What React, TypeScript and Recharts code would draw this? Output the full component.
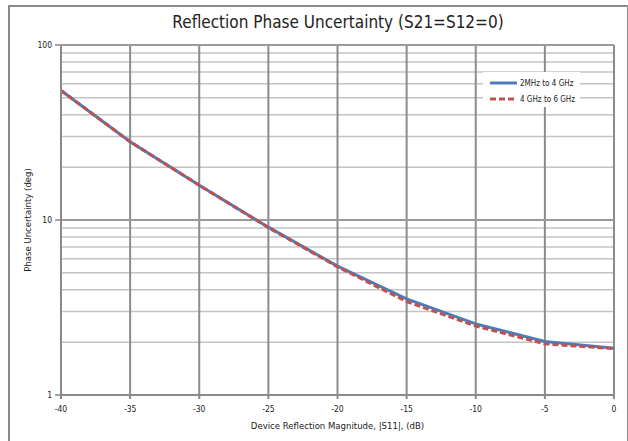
import React from "react";
import { LineChart, Line, XAxis, YAxis, CartesianGrid, ReferenceLine } from "recharts";

const magnitudes = [-40, -35, -30, -25, -20, -15, -10, -5, 0];
const band1 = [55, 28, 15.8, 9.1, 5.45, 3.54, 2.55, 2.02, 1.85];
const band2 = [55, 28, 15.8, 9.05, 5.4, 3.42, 2.48, 1.96, 1.84];
const xTicks = [-40, -35, -30, -25, -20, -15, -10, -5, 0];
const yGrid = [1, 2, 3, 4, 5, 6, 7, 8, 9, 10, 20, 30, 40, 50, 60, 70, 80, 90, 100];
const yMajor = [1, 10, 100];
const seriesNames = ["2MHz to 4 GHz", "4 GHz to 6 GHz"];

const data = magnitudes.map((m, i) => ({ m, a: band1[i], b: band2[i] }));

const FONT = "'Liberation Sans Narrow', 'DejaVu Sans Condensed', 'Arial Narrow', sans-serif";

const YTick = (props: any) => {
  const { x, y, payload } = props;
  if (!yMajor.includes(payload.value)) return null;
  return (
    <g>
      <line x1={x + 2} x2={x + 8} y1={y} y2={y} stroke="#888" strokeWidth={1.5} />
      <text x={x - 1} y={y} dy={3} textAnchor="end" fontSize={8.5} fill="#222" fontFamily={FONT}>
        {payload.value}
      </text>
    </g>
  );
};

const LegendBox = () => (
  <svg width={97} height={35} style={{ position: "absolute", left: 483, top: 72, background: "#fff" }}>
    <line x1={7} x2={34} y1={11} y2={11} stroke="#4A7EBB" strokeWidth={3} />
    <line x1={7} x2={33} y1={27} y2={27} stroke="#C0504D" strokeWidth={3} strokeDasharray="6 3" />
    <text x={37} y={14} fontSize={8} fontFamily={FONT} fill="#222">{seriesNames[0]}</text>
    <text x={37} y={30} fontSize={8} fontFamily={FONT} fill="#222">{seriesNames[1]}</text>
  </svg>
);

export default function App() {
  return (
    <div style={{ position: "absolute", left: 0, top: 0, width: 628, height: 441, background: "#fff", overflow: "hidden" }}>
      <div
        style={{
          position: "absolute",
          left: 8,
          top: 5,
          width: 617,
          height: 440,
          borderLeft: "2px solid #8a8a8a",
          borderTop: "2px solid #8a8a8a",
          borderRight: "2px solid #8a8a8a",
        }}
      />
      <div
        style={{
          position: "absolute",
          left: 0,
          top: 12,
          width: 676,
          textAlign: "center",
          fontFamily: FONT,
          fontSize: 17,
          color: "#222",
        }}
      >
        Reflection Phase Uncertainty (S21=S12=0)
      </div>
      <div style={{ position: "absolute", left: 0, top: 0 }}>
        <LineChart width={628} height={441} data={data} margin={{ top: 45, right: 14, bottom: 8, left: 20 }}>
          <CartesianGrid horizontal={true} vertical={false} stroke="#c4c4c4" strokeWidth={1.5} horizontalValues={yGrid} />
          <CartesianGrid horizontal={false} vertical={true} stroke="#8c8c8c" strokeWidth={2} verticalValues={xTicks} />
          <ReferenceLine y={10} stroke="#9a9a9a" strokeWidth={2} />
          <ReferenceLine y={100} stroke="#9a9a9a" strokeWidth={2} />
          <XAxis
            dataKey="m"
            type="number"
            domain={[-40, 0]}
            ticks={xTicks}
            height={38}
            stroke="#8a8a8a"
            strokeWidth={2}
            tickLine={{ stroke: "#8a8a8a" }}
            tickSize={4}
            tickMargin={7}
            tick={{ fontSize: 8.5, fill: "#222", fontFamily: FONT }}
            label={{ value: "Device Reflection Magnitude, |S11|, (dB)", position: "insideBottom", offset: 4, fontSize: 9.5, fill: "#222", fontFamily: FONT }}
          />
          <YAxis
            scale="log"
            domain={[1, 100]}
            ticks={yGrid}
            interval={0}
            allowDataOverflow
            width={41}
            stroke="#8a8a8a"
            strokeWidth={2}
            tickLine={false}
            tick={<YTick />}
          />
          <Line dataKey="a" name={seriesNames[0]} stroke="#4A7EBB" strokeWidth={3} dot={false} isAnimationActive={false} />
          <Line dataKey="b" name={seriesNames[1]} stroke="#C0504D" strokeWidth={3} strokeDasharray="6 3" dot={false} isAnimationActive={false} />
        </LineChart>
      </div>
      <svg width={40} height={441} style={{ position: "absolute", left: 10, top: 0 }}>
        <text
          x={18}
          y={220}
          transform="rotate(-90 18 220)"
          textAnchor="middle"
          dominantBaseline="middle"
          fontSize={9.5}
          fontFamily={FONT}
          fill="#222"
        >
          Phase Uncertainty  (deg)
        </text>
      </svg>
      <LegendBox />
    </div>
  );
}
